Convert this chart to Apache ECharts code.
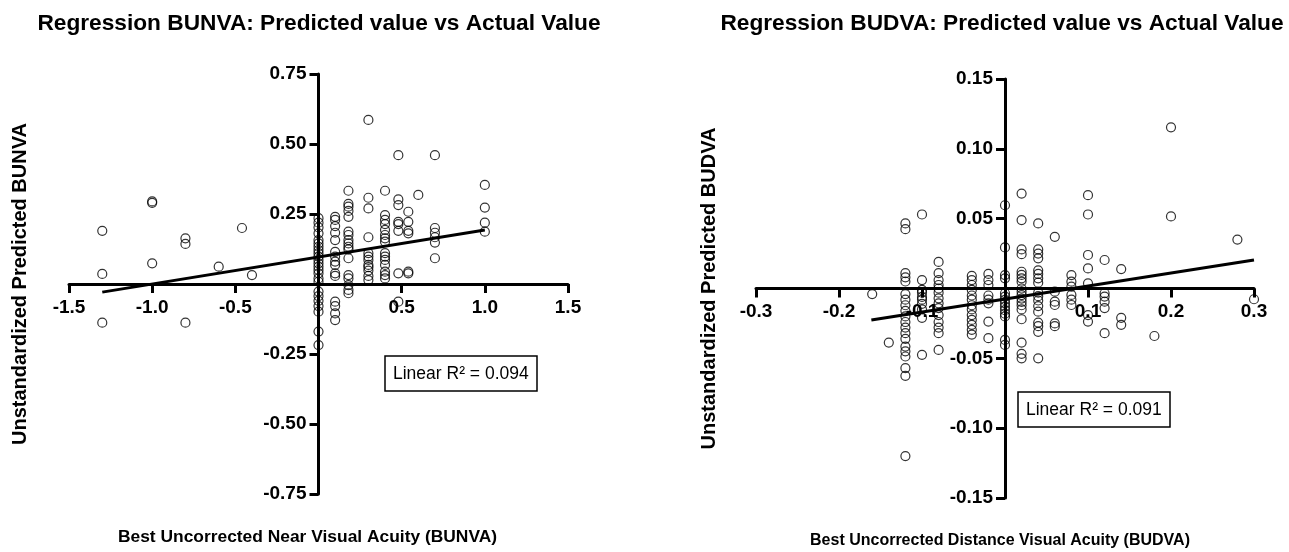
<!DOCTYPE html>
<html>
<head>
<meta charset="utf-8">
<script src="https://cdn.jsdelivr.net/npm/echarts@6/dist/echarts.min.js"></script>
<style>
  html, body { margin: 0; padding: 0; background: #fff; }
  #chart { width: 1289px; height: 552px; }
</style>
</head>
<body>
<div id="chart"></div>
<script>
// ---------- Left panel: BUNVA ----------
const nearTitle = 'Regression BUNVA: Predicted value vs Actual Value';
const nearXName = 'Best Uncorrected Near Visual Acuity (BUNVA)';
const nearYName = 'Unstandardized Predicted BUNVA';
const nearR2 = 'Linear R\u00B2 = 0.094';
const nearXCols = [-1.3, -1.0, -0.8, -0.6, -0.46, -0.4, 0, 0.1, 0.18, 0.3, 0.4, 0.48, 0.54, 0.6, 0.7, 1.0];
const nearYVals = [
  [0.19, 0.036, -0.138],
  [0.295, 0.29, 0.074],
  [0.163, 0.143, -0.138],
  [0.062],
  [0.2],
  [0.032],
  [0.235, 0.219, 0.202, 0.181, 0.157, 0.145, 0.133, 0.121, 0.110, 0.098, 0.086, 0.074, 0.062, 0.05, 0.038, 0.02, 0.008, -0.027, -0.043, -0.06, -0.079, -0.099, -0.17, -0.218],
  [0.24, 0.229, 0.207, 0.183, 0.157, 0.115, 0.098, 0.08, 0.068, 0.038, 0.029, -0.063, -0.079, -0.105, -0.129],
  [0.333, 0.286, 0.276, 0.261, 0.24, 0.187, 0.175, 0.157, 0.145, 0.133, 0.124, 0.092, 0.032, 0.02, -0.004, -0.021, -0.033],
  [0.586, 0.308, 0.27, 0.167, 0.11, 0.098, 0.086, 0.068, 0.06, 0.048, 0.029, 0.014],
  [0.333, 0.246, 0.229, 0.214, 0.193, 0.175, 0.163, 0.151, 0.11, 0.098, 0.086, 0.068, 0.044, 0.032, 0.02],
  [0.46, 0.302, 0.282, 0.222, 0.214, 0.19, 0.038, -0.063],
  [0.258, 0.222, 0.19, 0.181, 0.044, 0.038],
  [0.318],
  [0.46, 0.2, 0.183, 0.167, 0.148, 0.092],
  [0.354, 0.273, 0.219, 0.187]
];
const nearFitX = [-1.3, 1.0];
const nearFitY = [-0.029, 0.193];
const nearXTicks = { min: -1.5, max: 1.5, step: 0.5 };
const nearYTicks = { min: -0.75, max: 0.75, step: 0.25 };

// ---------- Right panel: BUDVA ----------
const distTitle = 'Regression BUDVA: Predicted value vs Actual Value';
const distXName = 'Best Uncorrected Distance Visual Acuity (BUDVA)';
const distYName = 'Unstandardized Predicted BUDVA';
const distR2 = 'Linear R\u00B2 = 0.091';
const distXCols = [-0.16, -0.14, -0.12, -0.1, -0.08, -0.04, -0.02, 0, 0.02, 0.04, 0.06, 0.08, 0.1, 0.12, 0.14, 0.18, 0.2, 0.28, 0.3];
const distYVals = [
  [-0.004],
  [-0.0387],
  [0.0466, 0.0425, 0.011, 0.008, 0.005, -0.004, -0.008, -0.012, -0.016, -0.02, -0.024, -0.028, -0.032, -0.036, -0.0416, -0.045, -0.0487, -0.057, -0.0625, -0.12],
  [0.053, 0.006, -0.001, -0.003, -0.006, -0.008, -0.011, -0.015, -0.021, -0.0475],
  [0.019, 0.011, 0.006, 0.0025, 0, -0.003, -0.007, -0.0106, -0.014, -0.019, -0.024, -0.028, -0.032, -0.044],
  [0.009, 0.006, 0.0025, -0.001, -0.005, -0.008, -0.012, -0.015, -0.019, -0.0225, -0.026, -0.0296, -0.033],
  [0.0104, 0.006, 0.0025, -0.005, -0.008, -0.0106, -0.0237, -0.0356],
  [0.0596, 0.0294, 0.0096, 0.0073, -0.0034, -0.0058, -0.0082, -0.0106, -0.013, -0.0155, -0.018, -0.02, -0.0368, -0.0404],
  [0.068, 0.049, 0.028, 0.0246, 0.012, 0.0097, 0.0073, 0.0049, 0, -0.0024, -0.0048, -0.0072, -0.0096, -0.012, -0.015, -0.022, -0.0387, -0.0468, -0.05],
  [0.0466, 0.028, 0.025, 0.0216, 0.013, 0.0104, 0.0073, 0.0042, -0.003, -0.0055, -0.0086, -0.0126, -0.0166, -0.0244, -0.027, -0.031, -0.05],
  [0.037, -0.0023, -0.0094, -0.0118, -0.025, -0.027],
  [0.0096, 0.0049, 0.0013, -0.0046, -0.008, -0.0118],
  [0.0668, 0.053, 0.024, 0.0144, 0.0037, -0.019, -0.0237],
  [0.0204, -0.0034, -0.0058, -0.0094, -0.014, -0.032],
  [0.0139, -0.021, -0.026],
  [-0.034],
  [0.1154, 0.0516],
  [0.035],
  [-0.0077]
];
const distFitX = [-0.161, 0.3];
const distFitY = [-0.0225, 0.0204];
const distXTicks = { min: -0.3, max: 0.3, step: 0.1 };
const distYTicks = { min: -0.15, max: 0.15, step: 0.05 };

// ---------- build ----------
const FONT = '"Liberation Sans", Arial, Helvetica, sans-serif';
function points(cols, vals) {
  const out = [];
  cols.forEach((x, i) => vals[i].forEach(y => out.push([x, y])));
  return out;
}
function fit(xs, ys) { return xs.map((x, i) => [x, ys[i]]); }
function fmt(dec) {
  return v => (Math.abs(v) < 1e-9 ? '' : v.toFixed(dec));
}
// grid boxes (pixels); axes are offset so they cross at the origin
const G = [
  { l: 69, r: 568, t: 74, b: 494 },
  { l: 756, r: 1254, t: 79, b: 498 }
];
function zeroOffsetX(g, t) { return -((0 - t.min) / (t.max - t.min)) * (g.b - g.t); }
function zeroOffsetY(g, t) { return -((0 - t.min) / (t.max - t.min)) * (g.r - g.l); }
function xAxisCfg(idx, t, ty, name, nameGap, nameSize, namePadRight) {
  return {
    type: 'value', gridIndex: idx, min: t.min, max: t.max, interval: t.step,
    position: 'bottom', offset: zeroOffsetX(G[idx], ty),
    name: name, nameLocation: 'middle', nameGap: nameGap,
    nameTextStyle: { fontFamily: FONT, fontWeight: 'bold', fontSize: nameSize, color: '#000',
      padding: [0, namePadRight, 0, 0] },
    axisLine: { onZero: false, lineStyle: { color: '#000', width: 3 } },
    axisTick: { show: true, length: 9, lineStyle: { color: '#000', width: 3 } },
    axisLabel: { formatter: fmt(1), fontFamily: FONT, fontWeight: 'bold', fontSize: 19, color: '#000', margin: 14,
      showMinLabel: true, showMaxLabel: true },
    splitLine: { show: false }
  };
}
function yAxisCfg(idx, t, tx, name, nameGap) {
  return {
    type: 'value', gridIndex: idx, min: t.min, max: t.max, interval: t.step,
    position: 'left', offset: zeroOffsetY(G[idx], tx),
    name: name, nameLocation: 'middle', nameGap: nameGap, nameRotate: 90,
    nameTextStyle: { fontFamily: FONT, fontWeight: 'bold', fontSize: 20, color: '#000' },
    axisLine: { onZero: false, lineStyle: { color: '#000', width: 3 } },
    axisTick: { show: true, length: 9, lineStyle: { color: '#000', width: 3 } },
    axisLabel: { formatter: fmt(2), fontFamily: FONT, fontWeight: 'bold', fontSize: 19, color: '#000', margin: 12,
      showMinLabel: true, showMaxLabel: true },
    splitLine: { show: false }
  };
}
const pointStyle = { color: 'rgba(0,0,0,0)', borderColor: '#000', borderWidth: 1.2 };
const titleStyle = { fontFamily: FONT, fontWeight: 'bold', fontSize: 22.7, color: '#000' };
const boxStyle = { fontFamily: FONT, fontWeight: 'normal', fontSize: 17.5, color: '#000' };

const option = {
  backgroundColor: '#fff',
  animation: false,
  title: [
    { text: nearTitle, left: 319, top: 12, textAlign: 'center', padding: 0, textStyle: titleStyle },
    { text: distTitle, left: 1002, top: 12, textAlign: 'center', padding: 0, textStyle: titleStyle },
    { text: nearR2, left: 385, top: 356, padding: [9, 9, 8, 8], borderColor: '#000', borderWidth: 1.5, textStyle: boxStyle },
    { text: distR2, left: 1018, top: 392, padding: [9, 9, 8, 8], borderColor: '#000', borderWidth: 1.5, textStyle: boxStyle }
  ],
  grid: G.map(g => ({ left: g.l, right: 1289 - g.r, top: g.t, bottom: 552 - g.b, containLabel: false, outerBoundsMode: 'none' })),
  xAxis: [
    xAxisCfg(0, nearXTicks, nearYTicks, nearXName, 245, 17.4, 22),
    xAxisCfg(1, distXTicks, distYTicks, distXName, 244, 16, 10)
  ],
  yAxis: [
    yAxisCfg(0, nearYTicks, nearXTicks, nearYName, 288),
    yAxisCfg(1, distYTicks, distXTicks, distYName, 286)
  ],
  series: [
    { type: 'scatter', xAxisIndex: 0, yAxisIndex: 0, data: points(nearXCols, nearYVals),
      symbol: 'circle', symbolSize: 9, itemStyle: pointStyle, z: 3 },
    { type: 'line', xAxisIndex: 0, yAxisIndex: 0, data: fit(nearFitX, nearFitY),
      symbol: 'none', lineStyle: { color: '#000', width: 3 }, z: 4 },
    { type: 'scatter', xAxisIndex: 1, yAxisIndex: 1, data: points(distXCols, distYVals),
      symbol: 'circle', symbolSize: 9, itemStyle: pointStyle, z: 3 },
    { type: 'line', xAxisIndex: 1, yAxisIndex: 1, data: fit(distFitX, distFitY),
      symbol: 'none', lineStyle: { color: '#000', width: 3 }, z: 4 }
  ]
};
const chart = echarts.init(document.getElementById('chart'), null, { renderer: 'canvas' });
chart.setOption(option);
</script>
</body>
</html>
